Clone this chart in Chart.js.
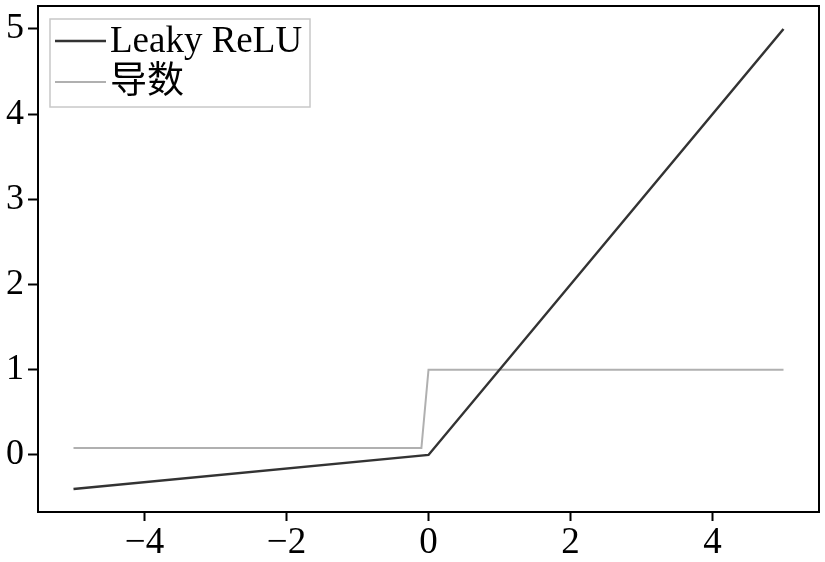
<!DOCTYPE html>
<html>
<head>
<meta charset="utf-8">
<script src="https://cdn.jsdelivr.net/npm/chart.js"></script>
<style>
  html, body { margin: 0; padding: 0; background: #fff; }
  #wrap { width: 825px; height: 562px; }
</style>
</head>
<body>
<div id="wrap"><canvas id="chart"></canvas></div>
<script>
const reluX = [-5, 0, 5];
const reluY = [-0.4, 0, 5];
const derivX = [-5, -0.1, 0, 5];
const derivY = [0.08, 0.08, 1, 1];
const xTicks = [-4, -2, 0, 2, 4];
const yTicks = [0, 1, 2, 3, 4, 5];
const seriesNames = ['Leaky ReLU', '导数'];

const serif = "'Liberation Serif', 'Times New Roman', 'Noto Sans CJK SC', serif";

// frame + legend drawn inside the plot box
const framePlugin = {
  id: 'frame',
  afterDraw(chart) {
    const { ctx, chartArea: a } = chart;
    ctx.save();
    ctx.strokeStyle = '#000';
    ctx.lineWidth = 2;
    ctx.strokeRect(a.left, a.top, a.right - a.left, a.bottom - a.top);

    // legend
    ctx.strokeStyle = '#c8c8c8';
    ctx.lineWidth = 1.5;
    ctx.fillStyle = '#fff';
    ctx.fillRect(50, 19, 260, 88);
    ctx.strokeRect(50, 19, 260, 88);
    chart.data.datasets.forEach((ds, i) => {
      const y = 41 + i * 41;
      ctx.strokeStyle = ds.borderColor;
      ctx.lineWidth = ds.borderWidth;
      ctx.beginPath();
      ctx.moveTo(55, y);
      ctx.lineTo(106, y);
      ctx.stroke();
      ctx.fillStyle = '#000';
      ctx.font = "37px " + serif;
      ctx.textBaseline = 'middle';
      ctx.fillText(ds.label, 110, y + 1);
    });
    ctx.restore();
  }
};

new Chart(document.getElementById('chart'), {
  type: 'line',
  data: {
    datasets: [
      {
        label: seriesNames[0],
        data: reluX.map((x, i) => ({ x, y: reluY[i] })),
        borderColor: '#333333',
        borderWidth: 2.5,
        pointRadius: 0,
        tension: 0
      },
      {
        label: seriesNames[1],
        data: derivX.map((x, i) => ({ x, y: derivY[i] })),
        borderColor: '#b0b0b0',
        borderWidth: 2,
        pointRadius: 0,
        tension: 0
      }
    ]
  },
  options: {
    responsive: true,
    maintainAspectRatio: false,
    animation: false,
    layout: { padding: { top: 6, right: 6, left: 0, bottom: 0 } },
    plugins: { legend: { display: false }, tooltip: { enabled: false } },
    scales: {
      x: {
        type: 'linear',
        min: -5.5,
        max: 5.5,
        afterBuildTicks: s => { s.ticks = xTicks.map(v => ({ value: v })); },
        afterFit: s => { s.height = 50; s.paddingLeft = 0; s.paddingRight = 0; },
        grid: { drawOnChartArea: false, tickLength: 9, tickWidth: 2, tickColor: '#000' },
        border: { display: true, color: '#000', width: 2 },
        ticks: {
          color: '#000',
          padding: 0,
          maxRotation: 0,
          font: { family: serif, size: 37 },
          callback: v => String(v).replace('-', '\u2212')
        }
      },
      y: {
        type: 'linear',
        min: -0.67,
        max: 5.27,
        afterBuildTicks: s => { s.ticks = yTicks.map(v => ({ value: v })); },
        afterFit: s => { s.width = 38; s.paddingTop = 0; s.paddingBottom = 0; },
        grid: { drawOnChartArea: false, tickLength: 10, tickWidth: 2, tickColor: '#000' },
        border: { display: true, color: '#000', width: 2 },
        ticks: {
          color: '#000',
          padding: 4,
          font: { family: serif, size: 36 },
          callback: v => String(v)
        }
      }
    }
  },
  plugins: [framePlugin]
});
</script>
</body>
</html>
